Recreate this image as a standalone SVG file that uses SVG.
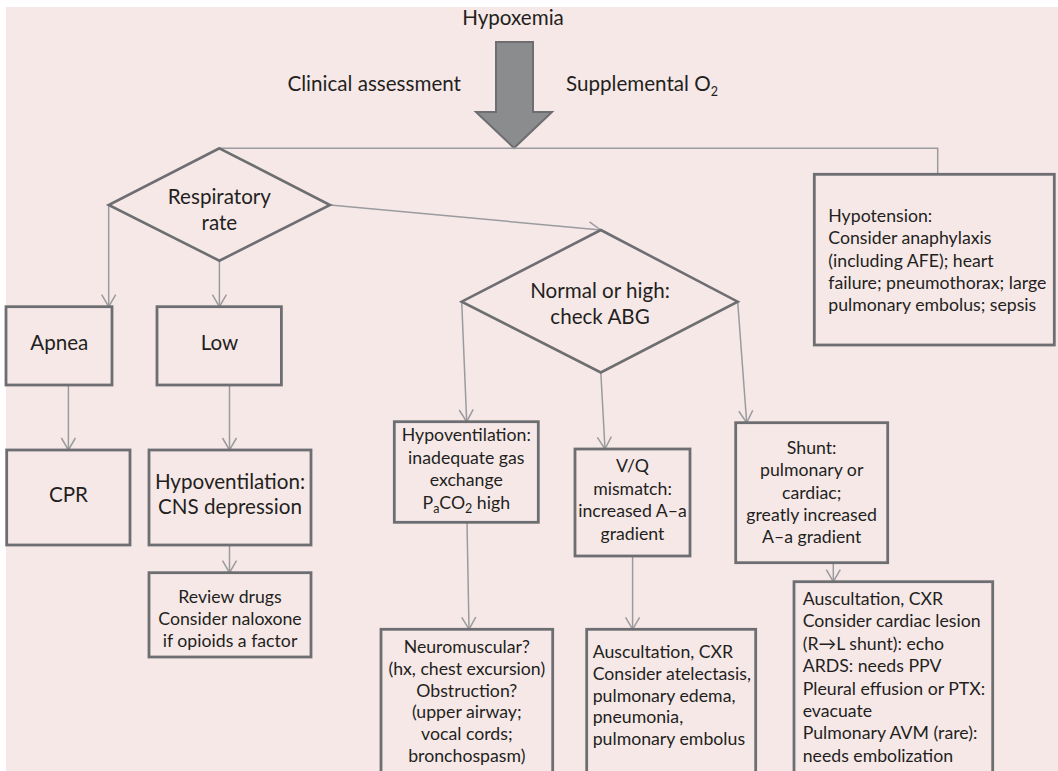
<svg xmlns="http://www.w3.org/2000/svg" width="1058" height="771" viewBox="0 0 1058 771">
  <defs>
    <marker id="open-arrow" markerUnits="userSpaceOnUse" markerWidth="16" markerHeight="18" refX="13" refY="8" orient="auto" overflow="visible">
      <path d="M1,1 L13,8 L1,15" fill="none" stroke="#9a9b9e" stroke-width="1.5"/>
    </marker>
    <style>
      text { font-family: "Lato", "Noto Sans", "DejaVu Sans", sans-serif; fill: #231f20; }
      .big { font-size: 20.6px; }
      .body { font-size: 17.7px; }
      .mid { text-anchor: middle; }
      .sub { font-size: 12.5px; }
      .box { fill: none; stroke: #6d6e71; stroke-width: 2.8; }
      .dia { fill: none; stroke: #6d6e71; stroke-width: 2.6; stroke-linejoin: miter; }
      .link { fill: none; stroke: #9a9b9e; stroke-width: 1.5; }
      .arr { marker-end: url(#open-arrow); }
    </style>
  </defs>

  <!-- page background -->
  <rect x="0" y="0" width="1058" height="771" fill="#ffffff"/>
  <rect x="6" y="7" width="1052" height="764" fill="#f7e8e8"/>

  <!-- heading and main arrow -->
  <g id="header">
    <text class="big mid" x="513" y="25">Hypoxemia</text>
    <text class="big" x="461" y="91" text-anchor="end">Clinical assessment</text>
    <text class="big" x="566" y="91">Supplemental O<tspan class="sub" font-size="15" dy="5">2</tspan></text>
    <polygon points="496,42 533,42 533,112 552,112 514,148 476,112 496,112" fill="#8b8c8e" stroke="#6d6e71" stroke-width="2"/>
  </g>

  <!-- connectors -->
  <g id="connectors">
    <polyline class="link" points="219.4,148.3 937.7,148.3 937.7,174.3"/>
    <line class="link arr" x1="330" y1="205" x2="600.8" y2="230"/>
    <line class="link arr" x1="108.7" y1="205" x2="108.7" y2="306.7"/>
    <line class="link arr" x1="219.4" y1="260.7" x2="219.4" y2="306.7"/>
    <line class="link arr" x1="68.4" y1="385" x2="68.4" y2="450"/>
    <line class="link arr" x1="229.5" y1="385" x2="229.5" y2="450"/>
    <line class="link arr" x1="229.5" y1="545" x2="229.5" y2="572.7"/>
    <line class="link arr" x1="461.7" y1="301.7" x2="466.7" y2="421.7"/>
    <line class="link arr" x1="600.8" y1="372" x2="605" y2="449"/>
    <line class="link arr" x1="737.7" y1="301.7" x2="746.7" y2="422.7"/>
    <line class="link arr" x1="467" y1="522.3" x2="469" y2="629.3"/>
    <line class="link arr" x1="632.6" y1="556" x2="632.6" y2="629.3"/>
    <line class="link arr" x1="833.3" y1="562.7" x2="833.3" y2="581.7"/>
  </g>

  <g id="respiratory-rate">
    <polygon class="dia" points="219.4,148.3 330,205 219.4,260.7 108.7,205"/>
    <text class="big mid" x="219.4" y="204">Respiratory</text>
    <text class="big mid" x="219.4" y="229.5">rate</text>
  </g>

  <g id="hypotension">
    <rect class="box" x="814.3" y="174.3" width="240" height="170.7"/>
    <text class="body" x="828.3" y="222">Hypotension:</text>
    <text class="body" x="828.3" y="244.3">Consider anaphylaxis</text>
    <text class="body" x="828.3" y="266.6">(including AFE); heart</text>
    <text class="body" x="828.3" y="288.9">failure; pneumothorax; large</text>
    <text class="body" x="828.3" y="311.2">pulmonary embolus; sepsis</text>
  </g>

  <g id="normal-or-high">
    <polygon class="dia" points="600.8,230 737.7,301.7 600.8,372.5 461.7,301.7"/>
    <text class="big mid" x="600" y="298">Normal or high:</text>
    <text class="big mid" x="600" y="324">check ABG</text>
  </g>

  <g id="apnea">
    <rect class="box" x="6" y="306.7" width="106" height="78.3"/>
    <text class="big mid" x="59.3" y="350">Apnea</text>
  </g>

  <g id="low">
    <rect class="box" x="157" y="306.7" width="124.4" height="78.3"/>
    <text class="big mid" x="219.4" y="350">Low</text>
  </g>

  <g id="cpr">
    <rect class="box" x="6.7" y="450" width="123.3" height="95"/>
    <text class="big mid" x="68.4" y="502">CPR</text>
  </g>

  <g id="cns-depression">
    <rect class="box" x="149" y="450" width="162" height="95"/>
    <text class="big mid" x="230" y="489.3">Hypoventilation:</text>
    <text class="big mid" x="230" y="514.3">CNS depression</text>
  </g>

  <g id="review-drugs">
    <rect class="box" x="149" y="572.7" width="162" height="84.3"/>
    <text class="body mid" x="230" y="602.7">Review drugs</text>
    <text class="body mid" x="230" y="624.7">Consider naloxone</text>
    <text class="body mid" x="230" y="646.7">if opioids a factor</text>
  </g>

  <g id="hypoventilation-gas">
    <rect class="box" x="394.3" y="421.7" width="144" height="100.6"/>
    <text class="body mid" x="466.3" y="441">Hypoventilation:</text>
    <text class="body mid" x="466.3" y="463.7">inadequate gas</text>
    <text class="body mid" x="466.3" y="486.3">exchange</text>
    <text class="body mid" x="466.3" y="509">P<tspan class="sub" dy="4">a</tspan><tspan dy="-4">CO</tspan><tspan class="sub" dy="4">2</tspan><tspan dy="-4"> high</tspan></text>
  </g>

  <g id="vq-mismatch">
    <rect class="box" x="575" y="449" width="115" height="107"/>
    <text class="body mid" x="632.5" y="472">V/Q</text>
    <text class="body mid" x="632.5" y="494.5">mismatch:</text>
    <text class="body mid" x="632.5" y="517">increased A–a</text>
    <text class="body mid" x="632.5" y="539.5">gradient</text>
  </g>

  <g id="shunt">
    <rect class="box" x="735.7" y="422.7" width="152" height="140"/>
    <text class="body mid" x="811.7" y="454">Shunt:</text>
    <text class="body mid" x="811.7" y="476.3">pulmonary or</text>
    <text class="body mid" x="811.7" y="498.6">cardiac;</text>
    <text class="body mid" x="811.7" y="520.9">greatly increased</text>
    <text class="body mid" x="811.7" y="543.2">A–a gradient</text>
  </g>

  <g id="neuromuscular">
    <rect class="box" x="381" y="629.3" width="171.7" height="170"/>
    <text class="body mid" x="466.8" y="653.3">Neuromuscular?</text>
    <text class="body mid" x="466.8" y="675">(hx, chest excursion)</text>
    <text class="body mid" x="466.8" y="696.7">Obstruction?</text>
    <text class="body mid" x="466.8" y="718.4">(upper airway;</text>
    <text class="body mid" x="466.8" y="740.1">vocal cords;</text>
    <text class="body mid" x="466.8" y="761.8">bronchospasm)</text>
  </g>

  <g id="vq-workup">
    <rect class="box" x="586.7" y="629.3" width="169" height="170"/>
    <text class="body" x="592.7" y="658.3">Auscultation, CXR</text>
    <text class="body" x="592.7" y="680">Consider atelectasis,</text>
    <text class="body" x="592.7" y="701.7">pulmonary edema,</text>
    <text class="body" x="592.7" y="723.4">pneumonia,</text>
    <text class="body" x="592.7" y="745.1">pulmonary embolus</text>
  </g>

  <g id="shunt-workup">
    <rect class="box" x="794" y="581.7" width="198.7" height="220"/>
    <text class="body" x="802.7" y="605">Auscultation, CXR</text>
    <text class="body" x="802.7" y="627.4">Consider cardiac lesion</text>
    <text class="body" x="802.7" y="649.8">(R→L shunt): echo</text>
    <text class="body" x="802.7" y="672.2">ARDS: needs PPV</text>
    <text class="body" x="802.7" y="694.6">Pleural effusion or PTX:</text>
    <text class="body" x="802.7" y="717">evacuate</text>
    <text class="body" x="802.7" y="739.4">Pulmonary AVM (rare):</text>
    <text class="body" x="802.7" y="761.8">needs embolization</text>
  </g>
</svg>
